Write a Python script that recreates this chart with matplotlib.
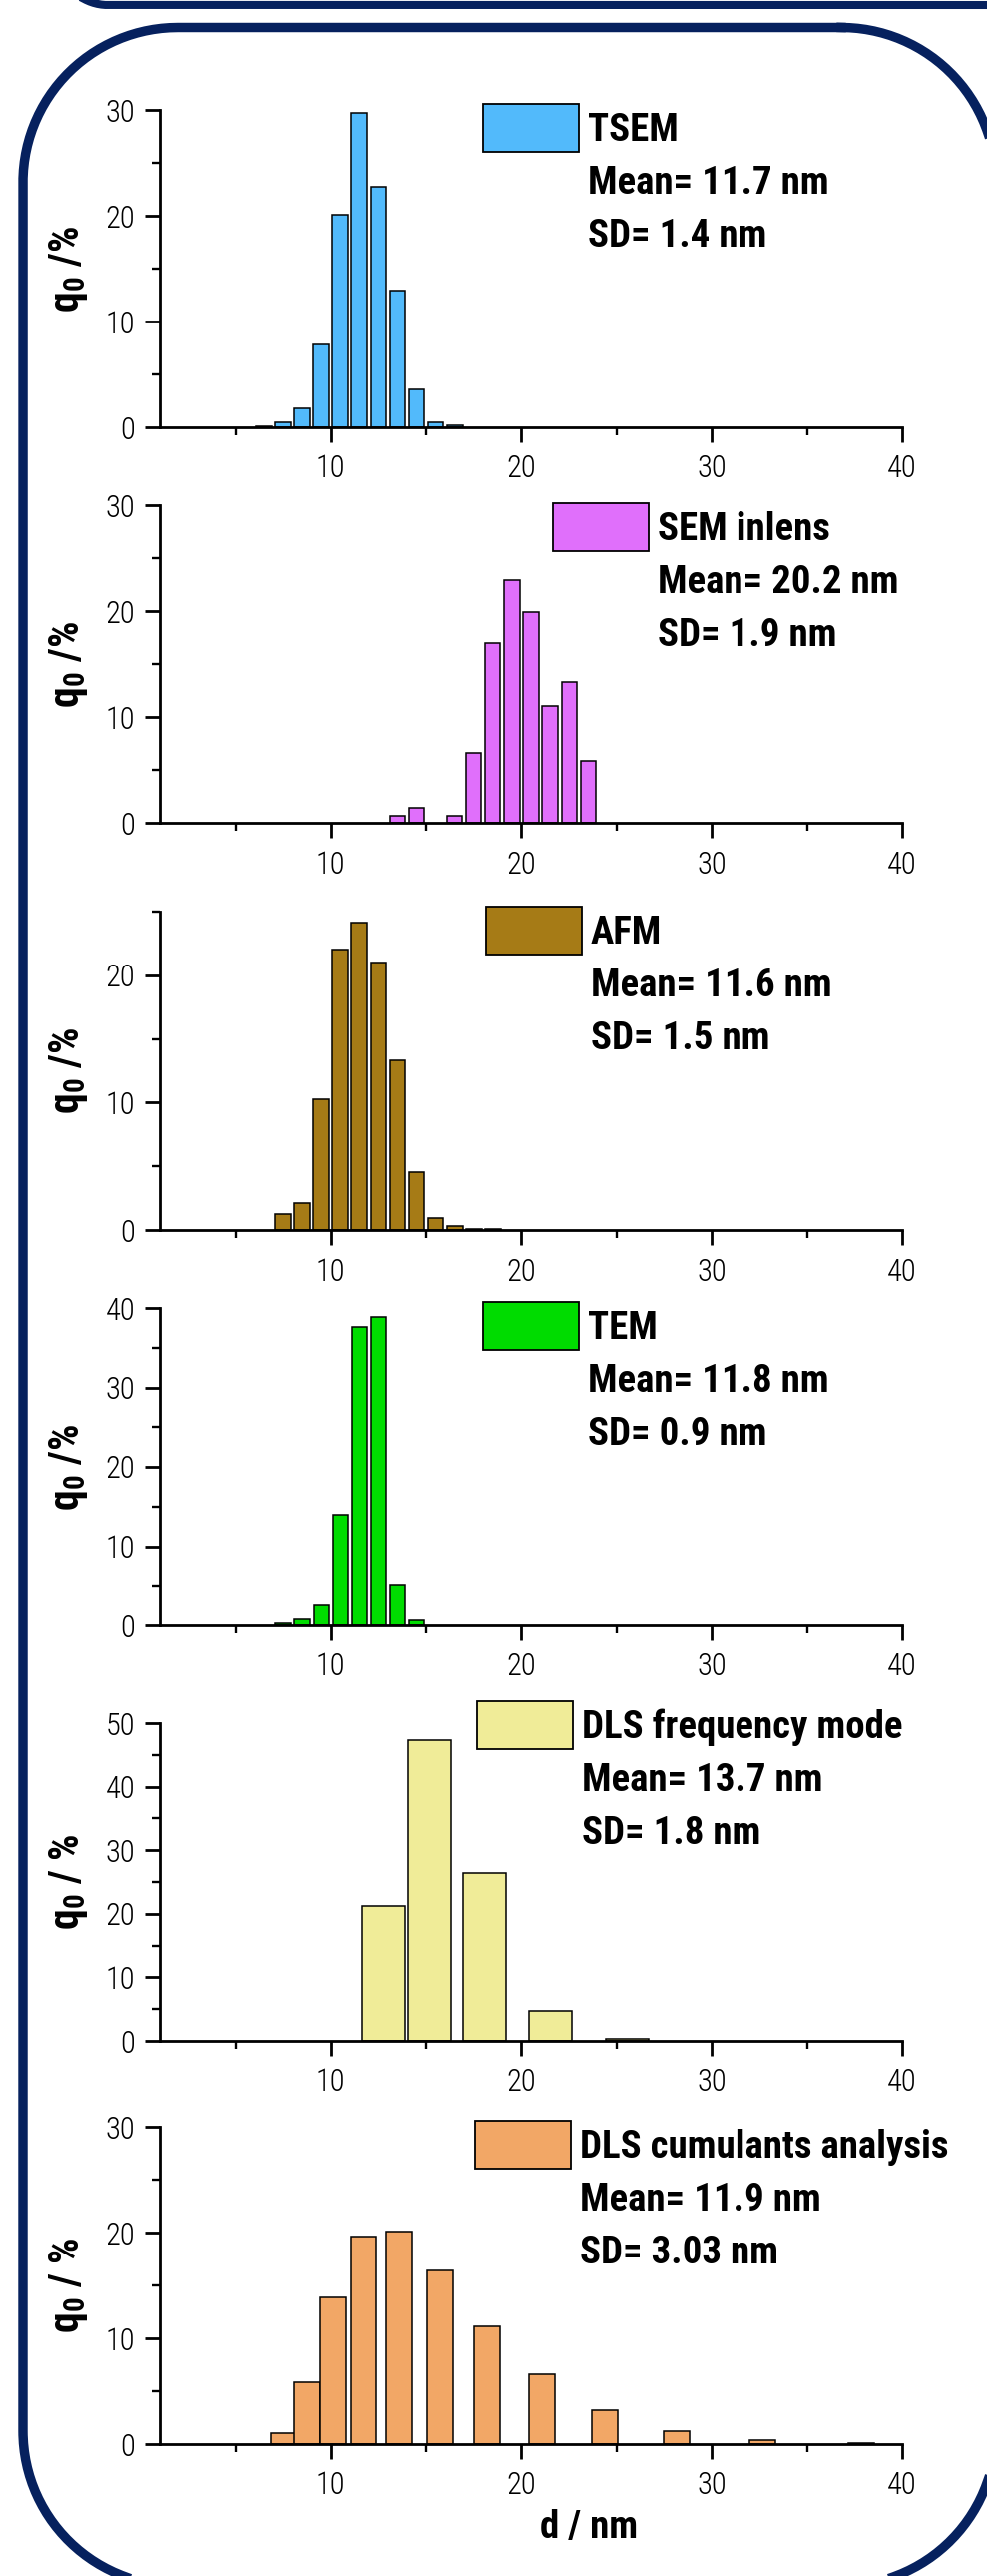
import os
import numpy as np
import matplotlib
matplotlib.use('Agg')
import matplotlib.pyplot as plt
from matplotlib import font_manager as fm
from matplotlib.patches import Rectangle
from matplotlib.ticker import MultipleLocator

# ---- data (bin centre in nm, q0 in %) ----
tsem_d = [6.5, 7.5, 8.5, 9.5, 10.5, 11.5, 12.5, 13.5, 14.5, 15.5, 16.5]
tsem_q = [0.1, 0.47, 1.79, 7.8, 20.1, 29.7, 22.7, 12.9, 3.6, 0.47, 0.15]

sem_d = [13.5, 14.5, 16.5, 17.5, 18.5, 19.5, 20.5, 21.5, 22.5, 23.5]
sem_q = [0.69, 1.42, 0.69, 6.6, 17.0, 22.9, 19.9, 11.0, 13.3, 5.85]

afm_d = [7.5, 8.5, 9.5, 10.5, 11.5, 12.5, 13.5, 14.5, 15.5, 16.5, 17.5, 18.5]
afm_q = [1.23, 2.1, 10.3, 22.05, 24.1, 21.0, 13.35, 4.55, 0.92, 0.34, 0.05, 0.08]

tem_d = [7.5, 8.5, 9.5, 10.5, 11.5, 12.5, 13.5, 14.5]
tem_q = [0.25, 0.8, 2.6, 14.0, 37.6, 38.9, 5.2, 0.59]

dlsf_d = [12.77, 15.2, 18.08, 21.5, 25.56]
dlsf_q = [21.2, 47.3, 26.4, 4.7, 0.34]

dlsc_d = [7.56, 8.74, 10.12, 11.72, 13.57, 15.72, 18.2, 21.06, 24.39, 28.14, 32.67, 37.85]
dlsc_q = [1.07, 5.88, 13.9, 19.65, 20.06, 16.38, 11.16, 6.6, 3.2, 1.19, 0.36, 0.05]

methods = ['TSEM', 'SEM inlens', 'AFM', 'TEM', 'DLS frequency mode', 'DLS cumulants analysis']
means = ['11.7', '20.2', '11.6', '11.8', '13.7', '11.9']
sds = ['1.4', '1.9', '1.5', '0.9', '1.8', '3.03']
ylabels = [r'$\mathbf{q_0}$ /%'] * 4 + [r'$\mathbf{q_0}$ / %'] * 2

# ---- styling / layout (pixels of the 989x2580 canvas) ----
W, H = 989, 2580
DPI = 100
colors = ['#52BAFB', '#E06FFB', '#A67B16', '#00DC00', '#F0EC98', '#F2A766']
bar_widths = [0.82, 0.8, 0.82, 0.8, 2.25, 1.36]
ymaxes = [30, 30, 25, 40, 50, 30]
ax_left, ax_right = 160, 904
ax_tops = [110, 506, 913, 1310, 1726, 2130]
ax_bottoms = [428, 824, 1232, 1628, 2044, 2448]
legend_xy = [(484, 104), (554, 504), (487, 908), (484, 1304), (478, 1704), (476, 2124)]
navy = '#06215E'


def find_font(cands):
    files = {os.path.basename(f.fname).lower(): f.fname for f in fm.fontManager.ttflist}
    for c in cands:
        for key, path in files.items():
            if key.startswith(c + '.'):
                return path
    return None


bold_path = find_font(['robotocondensed-bold', 'liberationsansnarrow-bold',
                       'dejavusanscondensed-bold', 'roboto-bold', 'dejavusans-bold'])
light_path = find_font(['robotocondensed-light', 'roboto-light', 'lato-light',
                        'opensans-light', 'liberationsansnarrow-regular', 'dejavusans'])

light_name = fm.FontProperties(fname=light_path).get_name() if light_path else 'DejaVu Sans'
bold_name = fm.FontProperties(fname=bold_path).get_name() if bold_path else 'DejaVu Sans'

plt.rcParams['font.family'] = [light_name, 'DejaVu Sans']
plt.rcParams['font.weight'] = 'light' if 'light' in (light_path or '').lower() else 'normal'
plt.rcParams['mathtext.fontset'] = 'custom'
plt.rcParams['mathtext.bf'] = bold_name + ':bold'
plt.rcParams['mathtext.rm'] = bold_name
plt.rcParams['mathtext.it'] = bold_name + ':italic'


def bold(size):
    if bold_path:
        return fm.FontProperties(fname=bold_path, size=size)
    return fm.FontProperties(family='DejaVu Sans', weight='bold', size=size)


def rounded_outline(x0, y0, x1, y1, r, n=60):
    # closed outline of a rounded rectangle, y grows downwards
    xs, ys = [], []
    corners = [(x1 - r, y0 + r, -90, 0), (x1 - r, y1 - r, 0, 90),
               (x0 + r, y1 - r, 90, 180), (x0 + r, y0 + r, 180, 270)]
    for cx, cy, a0, a1 in corners:
        t = np.radians(np.linspace(a0, a1, n))
        xs.extend(cx + r * np.cos(t))
        ys.extend(cy + r * np.sin(t))
    xs.append(xs[0])
    ys.append(ys[0])
    return xs, ys


fig = plt.figure(figsize=(W / DPI, H / DPI), dpi=DPI)

# frame drawn in pixel coordinates
frame = fig.add_axes([0, 0, 1, 1], zorder=0)
frame.set_xlim(0, W)
frame.set_ylim(H, 0)
frame.axis('off')
bx, by = rounded_outline(58, -300, 1040, 5, 50)
frame.plot(bx, by, color=navy, lw=5.8)
bx, by = rounded_outline(23, 27.5, 998, 2590, 155)
frame.plot(bx, by, color=navy, lw=6.8)

datasets = [(tsem_d, tsem_q), (sem_d, sem_q), (afm_d, afm_q),
            (tem_d, tem_q), (dlsf_d, dlsf_q), (dlsc_d, dlsc_q)]

for i, (d, q) in enumerate(datasets):
    top, bottom = ax_tops[i], ax_bottoms[i]
    ax_w, ax_h = ax_right - ax_left, bottom - top
    ax = fig.add_axes([ax_left / W, 1 - bottom / H, ax_w / W, ax_h / H], zorder=2)
    ax.patch.set_alpha(0)

    ax.bar(d, q, width=bar_widths[i], color=colors[i], edgecolor='black', linewidth=1.1, zorder=2)

    ax.set_xlim(1, 40)
    ax.set_ylim(0, ymaxes[i])
    for s in ['top', 'right']:
        ax.spines[s].set_visible(False)
    for s in ['left', 'bottom']:
        ax.spines[s].set_linewidth(2.0)
        ax.spines[s].set_zorder(3)
    ax.xaxis.set_major_locator(MultipleLocator(10))
    ax.xaxis.set_minor_locator(MultipleLocator(5))
    ax.yaxis.set_major_locator(MultipleLocator(10))
    ax.yaxis.set_minor_locator(MultipleLocator(5))
    ax.tick_params(which='major', length=10.8, width=2.0, labelsize=22)
    ax.tick_params(which='minor', length=5.8, width=1.7)
    ax.tick_params(axis='x', which='major', pad=9)
    ax.tick_params(axis='y', which='major', pad=7)

    ax.set_ylabel(ylabels[i], fontproperties=bold(30))
    ax.yaxis.label.set_va('center')
    ax.yaxis.set_label_coords((68 - ax_left) / ax_w, 0.5)

    # legend box and statistics
    lx, ly = legend_xy[i]
    fx = (lx - ax_left) / ax_w
    fy = lambda py: (bottom - py) / ax_h
    ax.add_patch(Rectangle((fx, fy(ly + 48)), 96 / ax_w, 48 / ax_h, transform=ax.transAxes,
                           clip_on=False, fc=colors[i], ec='black', lw=1.3, zorder=4))
    tx = (lx + 105 - ax_left) / ax_w
    ax.text(tx, fy(ly + 37), methods[i], transform=ax.transAxes, fontproperties=bold(28),
            va='baseline', ha='left')
    ax.text(tx, fy(ly + 90), 'Mean= ' + means[i] + ' nm', transform=ax.transAxes,
            fontproperties=bold(28), va='baseline', ha='left')
    ax.text(tx, fy(ly + 143), 'SD= ' + sds[i] + ' nm', transform=ax.transAxes,
            fontproperties=bold(28), va='baseline', ha='left')

    if i == len(datasets) - 1:
        ax.set_xlabel('d / nm', fontproperties=bold(28))
        ax.xaxis.label.set_va('baseline')
        ax.xaxis.set_label_coords((590 - ax_left) / ax_w, -(2542 - bottom) / ax_h)

fig.savefig('out.png', dpi=DPI, facecolor='white')
